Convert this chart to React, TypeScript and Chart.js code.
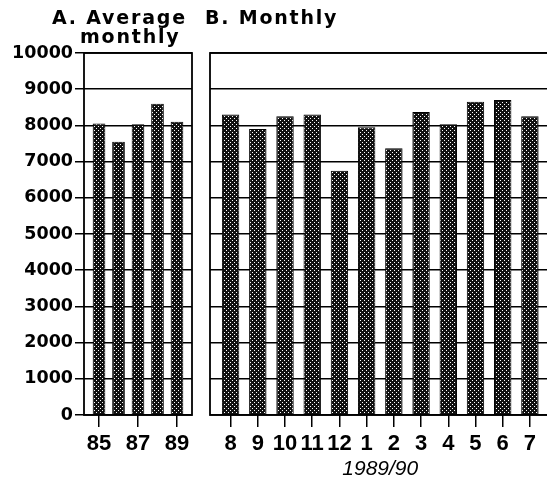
import React, { useEffect, useRef } from 'react';
import { Chart, registerables } from 'chart.js';

Chart.register(...registerables);

// ---- data ----
const avgYears = [85, 86, 87, 88, 89];
const avgValues = [8050, 7550, 8030, 8600, 8100];
const avgTickYears = [85, 87, 89];

const monthLabels = ['8', '9', '10', '11', '12', '1', '2', '3', '4', '5', '6', '7'];
const monthlyValues = [8300, 7900, 8250, 8300, 6750, 7950, 7370, 8370, 8030, 8650, 8700, 8250];
const monthAxisTitle = '1989/90';

const yMin = 0;
const yMax = 10000;
const yStep = 1000;

const titleA1 = 'A. Average';
const titleA2 = 'monthly';
const titleB = 'B. Monthly';

function makePattern(): CanvasPattern | string {
  const c = document.createElement('canvas');
  c.width = 4;
  c.height = 4;
  const g = c.getContext('2d');
  if (!g) return '#222';
  g.fillStyle = '#111';
  g.fillRect(0, 0, 4, 4);
  g.fillStyle = '#fff';
  g.fillRect(0, 0, 1, 1);
  g.fillRect(2, 2, 1, 1);
  return g.createPattern(c, 'repeat') || '#222';
}

const boxPlugin = {
  id: 'panelBox',
  afterDatasetsDraw(chart: any) {
    const { ctx, chartArea: a } = chart;
    ctx.save();
    ctx.strokeStyle = '#000';
    ctx.lineWidth = 1.8;
    ctx.strokeRect(a.left, a.top, a.right - a.left, a.bottom - a.top);
    ctx.restore();
  },
};

const numFontY = { family: '"DejaVu Sans"', size: 17.5, weight: 'bold' as const };
const numFontX = { family: '"Liberation Sans"', size: 22, weight: 'bold' as const };

export default function App() {
  const refA = useRef<HTMLCanvasElement>(null);
  const refB = useRef<HTMLCanvasElement>(null);

  useEffect(() => {
    const pattern = makePattern();
    const chartA = new Chart(refA.current!, {
      type: 'bar',
      data: {
        datasets: [
          {
            data: avgYears.map((x, i) => ({ x, y: avgValues[i] })) as any,
            backgroundColor: pattern as any,
            borderColor: '#000',
            borderWidth: 1,
            barPercentage: 0.65,
            categoryPercentage: 1,
          },
        ],
      },
      options: {
        responsive: false,
        animation: false,
        layout: { padding: { top: 53, left: 0, right: 8, bottom: 0 } },
        plugins: { legend: { display: false }, tooltip: { enabled: false } },
        scales: {
          x: {
            type: 'linear',
            offset: false,
            min: 84.23,
            max: 89.77,
            afterBuildTicks: (s: any) => {
              s.ticks = avgTickYears.map((v) => ({ value: v }));
            },
            afterFit: (s: any) => {
              s.height = 67;
            },
            grid: { offset: false, drawOnChartArea: false, drawTicks: true, tickLength: 12, color: '#000', lineWidth: 1.5 },
            border: { display: false },
            ticks: {
              color: '#000',
              font: numFontX,
              padding: 4,
              autoSkip: false,
              maxRotation: 0,
              callback: (v: any) => String(v),
            },
          },
          y: {
            min: yMin,
            max: yMax,
            ticks: {
              stepSize: yStep,
              color: '#000',
              font: numFontY,
              padding: 2,
              callback: (v: any) => String(v),
            },
            afterFit: (s: any) => {
              s.width = 84;
            },
            grid: { color: '#000', lineWidth: 1.5, tickLength: 9 },
            border: { display: false },
          },
        },
      },
      plugins: [boxPlugin],
    });

    const chartB = new Chart(refB.current!, {
      type: 'bar',
      data: {
        datasets: [
          {
            data: monthLabels.map((_, i) => ({ x: i, y: monthlyValues[i] })) as any,
            backgroundColor: pattern as any,
            borderColor: '#000',
            borderWidth: 1,
            barPercentage: 0.64,
            categoryPercentage: 1,
          },
        ],
      },
      options: {
        responsive: false,
        animation: false,
        layout: { padding: { top: 53, left: 0, right: 9.5, bottom: 0 } },
        plugins: { legend: { display: false }, tooltip: { enabled: false } },
        scales: {
          x: {
            type: 'linear',
            offset: false,
            min: -0.757,
            max: monthLabels.length - 1 + 0.757,
            afterBuildTicks: (s: any) => {
              s.ticks = monthLabels.map((_, i) => ({ value: i }));
            },
            afterFit: (s: any) => {
              s.height = 67;
            },
            grid: { offset: false, drawOnChartArea: false, drawTicks: true, tickLength: 12, color: '#000', lineWidth: 1.5 },
            border: { display: false },
            ticks: {
              color: '#000',
              font: numFontX,
              padding: 4,
              autoSkip: false,
              maxRotation: 0,
              callback: (v: any) => monthLabels[Math.round(Number(v))] ?? '',
            },
            title: {
              display: true,
              text: monthAxisTitle,
              color: '#000',
              font: { family: '"Liberation Sans"', size: 21, style: 'italic' },
              padding: { top: 0, bottom: 0 },
            },
          },
          y: {
            min: yMin,
            max: yMax,
            ticks: { stepSize: yStep, display: false },
            afterFit: (s: any) => {
              s.width = 10;
            },
            grid: { color: '#000', lineWidth: 1.5, drawTicks: false },
            border: { display: false },
          },
        },
      },
      plugins: [boxPlugin],
    });

    return () => {
      chartA.destroy();
      chartB.destroy();
    };
  }, []);

  const titleStyle: React.CSSProperties = {
    position: 'absolute',
    fontFamily: '"DejaVu Sans"',
    fontWeight: 'bold',
    fontSize: 19,
    letterSpacing: 1.8,
    lineHeight: '20px',
    whiteSpace: 'nowrap',
    color: '#000',
  };

  return (
    <div
      style={{
        position: 'fixed',
        left: 0,
        top: 0,
        width: 547,
        height: 482,
        overflow: 'hidden',
        background: '#fff',
      }}
    >
      <canvas ref={refA} width={200} height={482} style={{ position: 'absolute', left: 0, top: 0 }} />
      <canvas ref={refB} width={360} height={482} style={{ position: 'absolute', left: 200, top: 0 }} />
      <div style={{ ...titleStyle, left: 52, top: 6.7 }}>{titleA1}</div>
      <div style={{ ...titleStyle, left: 80, top: 26.1 }}>{titleA2}</div>
      <div style={{ ...titleStyle, left: 205, top: 6.7 }}>{titleB}</div>
    </div>
  );
}
